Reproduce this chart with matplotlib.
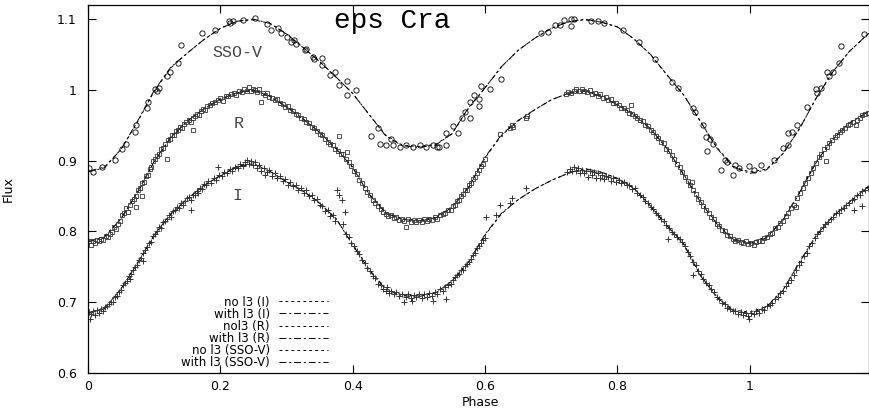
import numpy as np
import matplotlib.pyplot as plt

plt.rcParams['font.family'] = ['DejaVu Sans']
plt.rcParams['lines.scale_dashes'] = False

# model light curves on a fixed phase grid
model_phase = [0.000, 0.025, 0.050, 0.075, 0.100, 0.125, 0.150, 0.175, 0.200, 0.225,
               0.250, 0.275, 0.300, 0.325, 0.350, 0.375, 0.400, 0.425, 0.450, 0.475,
               0.500, 0.525, 0.550, 0.575, 0.600, 0.625, 0.650, 0.675, 0.700, 0.725,
               0.750, 0.775, 0.800, 0.825, 0.850, 0.875, 0.900, 0.925, 0.950, 0.975,
               1.000, 1.025, 1.050, 1.075, 1.100, 1.125, 1.150, 1.175, 1.180]

v_with_l3 = [0.884, 0.890, 0.916, 0.956, 0.999, 1.032, 1.052, 1.071, 1.087, 1.097,
             1.100, 1.094, 1.079, 1.060, 1.040, 1.018, 0.995, 0.965, 0.935, 0.921,
             0.919, 0.922, 0.938, 0.975, 1.003, 1.033, 1.056, 1.073, 1.087, 1.096,
             1.100, 1.096, 1.089, 1.072, 1.050, 1.021, 0.993, 0.956, 0.918, 0.891,
             0.882, 0.887, 0.910, 0.945, 0.988, 1.025, 1.054, 1.076, 1.080]
v_no_l3 = [0.885, 0.891, 0.916, 0.955, 0.998, 1.031, 1.052, 1.071, 1.087, 1.097,
           1.099, 1.094, 1.079, 1.060, 1.040, 1.018, 0.995, 0.965, 0.936, 0.922,
           0.920, 0.923, 0.938, 0.974, 1.003, 1.033, 1.056, 1.073, 1.087, 1.096,
           1.099, 1.096, 1.089, 1.072, 1.050, 1.021, 0.993, 0.956, 0.919, 0.892,
           0.884, 0.888, 0.910, 0.945, 0.988, 1.025, 1.054, 1.076, 1.080]

r_with_l3 = [0.785, 0.792, 0.818, 0.856, 0.899, 0.933, 0.956, 0.973, 0.987, 0.996,
             1.000, 0.991, 0.976, 0.959, 0.940, 0.917, 0.890, 0.852, 0.826, 0.817,
             0.815, 0.819, 0.834, 0.862, 0.905, 0.937, 0.957, 0.972, 0.986, 0.995,
             0.999, 0.991, 0.979, 0.965, 0.945, 0.917, 0.880, 0.842, 0.811, 0.788,
             0.783, 0.791, 0.816, 0.855, 0.898, 0.930, 0.953, 0.967, 0.969]
r_no_l3 = [0.786, 0.793, 0.818, 0.855, 0.898, 0.932, 0.956, 0.973, 0.987, 0.996,
           0.999, 0.991, 0.976, 0.959, 0.940, 0.917, 0.891, 0.853, 0.827, 0.818,
           0.816, 0.820, 0.835, 0.862, 0.904, 0.936, 0.956, 0.972, 0.986, 0.995,
           0.998, 0.991, 0.979, 0.965, 0.945, 0.917, 0.881, 0.843, 0.812, 0.789,
           0.785, 0.792, 0.816, 0.854, 0.897, 0.930, 0.953, 0.967, 0.969]

i_with_l3 = [0.684, 0.691, 0.719, 0.756, 0.795, 0.825, 0.846, 0.865, 0.879, 0.892,
             0.896, 0.885, 0.870, 0.857, 0.840, 0.818, 0.781, 0.745, 0.718, 0.709,
             0.708, 0.713, 0.730, 0.757, 0.796, 0.826, 0.845, 0.860, 0.872, 0.882,
             0.889, 0.884, 0.875, 0.861, 0.836, 0.808, 0.782, 0.738, 0.707, 0.688,
             0.684, 0.693, 0.717, 0.757, 0.794, 0.821, 0.841, 0.861, 0.864]
i_no_l3 = [0.685, 0.692, 0.719, 0.755, 0.794, 0.824, 0.846, 0.865, 0.879, 0.891,
           0.895, 0.885, 0.870, 0.857, 0.840, 0.818, 0.782, 0.746, 0.719, 0.710,
           0.709, 0.714, 0.730, 0.756, 0.795, 0.825, 0.845, 0.860, 0.872, 0.882,
           0.888, 0.884, 0.875, 0.861, 0.836, 0.808, 0.783, 0.739, 0.708, 0.689,
           0.686, 0.694, 0.717, 0.756, 0.793, 0.821, 0.841, 0.861, 0.864]

# observations (phase, flux)
v_obs = [(0.002, 0.889), (0.008, 0.884), (0.021, 0.891), (0.041, 0.901), (0.052, 0.917),
         (0.058, 0.924), (0.071, 0.941), (0.073, 0.950), (0.089, 0.974), (0.091, 0.983),
         (0.101, 1.002), (0.104, 0.998), (0.107, 1.003), (0.119, 1.019), (0.124, 1.026),
         (0.136, 1.038), (0.141, 1.063), (0.172, 1.080), (0.192, 1.085), (0.214, 1.094),
         (0.213, 1.098), (0.219, 1.097), (0.235, 1.099), (0.252, 1.101), (0.270, 1.093),
         (0.277, 1.085), (0.287, 1.087), (0.292, 1.080), (0.300, 1.075), (0.307, 1.068),
         (0.312, 1.070), (0.315, 1.065), (0.328, 1.056), (0.330, 1.058), (0.340, 1.047),
         (0.342, 1.044), (0.353, 1.045), (0.353, 1.035), (0.365, 1.021), (0.373, 1.026),
         (0.380, 1.007), (0.391, 1.012), (0.391, 0.993), (0.405, 1.000), (0.428, 0.935),
         (0.438, 0.946), (0.441, 0.924), (0.451, 0.922), (0.458, 0.930), (0.461, 0.922),
         (0.471, 0.920), (0.481, 0.922), (0.491, 0.920), (0.501, 0.922), (0.511, 0.920),
         (0.521, 0.922), (0.528, 0.919), (0.531, 0.920), (0.541, 0.922), (0.541, 0.939),
         (0.551, 0.949), (0.559, 0.939), (0.565, 0.960), (0.569, 0.969), (0.577, 0.960),
         (0.577, 0.983), (0.584, 0.993), (0.591, 0.977), (0.591, 0.987), (0.594, 1.005),
         (0.607, 1.001), (0.624, 1.016), (0.685, 1.080), (0.695, 1.082), (0.705, 1.092),
         (0.713, 1.092), (0.720, 1.099), (0.730, 1.100), (0.730, 1.090), (0.735, 1.100),
         (0.760, 1.098), (0.770, 1.098), (0.780, 1.094), (0.808, 1.085), (0.833, 1.068),
         (0.856, 1.044), (0.883, 1.011), (0.891, 1.003), (0.914, 0.974), (0.917, 0.969),
         (0.929, 0.950), (0.934, 0.934), (0.940, 0.930), (0.944, 0.924), (0.936, 0.913),
         (0.962, 0.901), (0.966, 0.898), (0.956, 0.887), (0.974, 0.880), (0.977, 0.894),
         (0.983, 0.889), (0.999, 0.892), (1.007, 0.887), (1.017, 0.894), (1.037, 0.901),
         (1.050, 0.918), (1.057, 0.922), (1.057, 0.939), (1.063, 0.941), (1.072, 0.950),
         (1.087, 0.976), (1.100, 1.002), (1.107, 1.003), (1.102, 0.995), (1.117, 1.026),
         (1.125, 1.026), (1.120, 1.019), (1.135, 1.038), (1.138, 1.062), (1.173, 1.079)]

r_obs = [(0.001, 0.786), (0.004, 0.781), (0.007, 0.787), (0.010, 0.784), (0.013, 0.788),
         (0.016, 0.786), (0.020, 0.790), (0.023, 0.788), (0.027, 0.794), (0.030, 0.792),
         (0.033, 0.797), (0.036, 0.799), (0.040, 0.806), (0.043, 0.803), (0.046, 0.811),
         (0.049, 0.815), (0.052, 0.823), (0.055, 0.826), (0.058, 0.833), (0.060, 0.828),
         (0.063, 0.838), (0.066, 0.843), (0.069, 0.846), (0.072, 0.850), (0.073, 0.835),
         (0.075, 0.858), (0.078, 0.861), (0.081, 0.868), (0.081, 0.850), (0.084, 0.870),
         (0.087, 0.878), (0.090, 0.880), (0.093, 0.888), (0.096, 0.891), (0.099, 0.899),
         (0.102, 0.902), (0.105, 0.907), (0.108, 0.909), (0.111, 0.916), (0.114, 0.918),
         (0.117, 0.924), (0.119, 0.903), (0.121, 0.929), (0.124, 0.931), (0.127, 0.936),
         (0.130, 0.937), (0.133, 0.942), (0.136, 0.944), (0.139, 0.948), (0.142, 0.946),
         (0.145, 0.952), (0.148, 0.954), (0.152, 0.958), (0.155, 0.955), (0.158, 0.961),
         (0.159, 0.943), (0.162, 0.963), (0.165, 0.966), (0.168, 0.964), (0.171, 0.970),
         (0.174, 0.973), (0.177, 0.971), (0.180, 0.977), (0.184, 0.978), (0.188, 0.981),
         (0.192, 0.983), (0.196, 0.986), (0.200, 0.988), (0.204, 0.985), (0.208, 0.991),
         (0.212, 0.992), (0.216, 0.994), (0.220, 0.996), (0.224, 0.993), (0.228, 0.998),
         (0.232, 0.997), (0.236, 1.001), (0.240, 0.998), (0.243, 1.004), (0.246, 0.999),
         (0.249, 1.001), (0.252, 1.000), (0.255, 0.997), (0.258, 1.001), (0.261, 0.983),
         (0.264, 0.996), (0.267, 0.993), (0.270, 0.995), (0.274, 0.990), (0.278, 0.989),
         (0.282, 0.986), (0.286, 0.987), (0.290, 0.981), (0.294, 0.980), (0.298, 0.976),
         (0.302, 0.977), (0.306, 0.972), (0.310, 0.970), (0.314, 0.966), (0.318, 0.965),
         (0.322, 0.960), (0.326, 0.959), (0.330, 0.955), (0.334, 0.953), (0.338, 0.948),
         (0.342, 0.946), (0.346, 0.942), (0.350, 0.938), (0.354, 0.936), (0.358, 0.930),
         (0.362, 0.927), (0.366, 0.923), (0.370, 0.922), (0.374, 0.916), (0.378, 0.914),
         (0.380, 0.935), (0.382, 0.910), (0.386, 0.909), (0.390, 0.903), (0.391, 0.912),
         (0.394, 0.898), (0.398, 0.893), (0.402, 0.886), (0.406, 0.881), (0.410, 0.873),
         (0.414, 0.868), (0.418, 0.862), (0.422, 0.856), (0.426, 0.851), (0.430, 0.845),
         (0.434, 0.840), (0.438, 0.836), (0.442, 0.832), (0.446, 0.828), (0.450, 0.825),
         (0.454, 0.822), (0.458, 0.823), (0.462, 0.819), (0.466, 0.820), (0.470, 0.816),
         (0.474, 0.818), (0.478, 0.815), (0.481, 0.807), (0.484, 0.817), (0.488, 0.814),
         (0.492, 0.816), (0.496, 0.813), (0.500, 0.816), (0.504, 0.814), (0.508, 0.817),
         (0.512, 0.815), (0.516, 0.818), (0.520, 0.816), (0.524, 0.820), (0.528, 0.818),
         (0.532, 0.823), (0.536, 0.824), (0.540, 0.826), (0.544, 0.830), (0.548, 0.831),
         (0.552, 0.836), (0.555, 0.838), (0.558, 0.843), (0.561, 0.845), (0.564, 0.850),
         (0.567, 0.853), (0.570, 0.858), (0.573, 0.859), (0.576, 0.866), (0.579, 0.868),
         (0.582, 0.874), (0.585, 0.877), (0.588, 0.883), (0.591, 0.887), (0.594, 0.893),
         (0.597, 0.896), (0.600, 0.903), (0.622, 0.938), (0.637, 0.946), (0.641, 0.951),
         (0.642, 0.947), (0.662, 0.960), (0.664, 0.963), (0.722, 0.994), (0.726, 0.997),
         (0.730, 0.996), (0.734, 0.999), (0.738, 1.001), (0.742, 0.998), (0.746, 1.002),
         (0.750, 0.999), (0.754, 0.997), (0.758, 1.000), (0.762, 0.994), (0.766, 0.996),
         (0.770, 0.992), (0.774, 0.994), (0.778, 0.988), (0.782, 0.990), (0.786, 0.986),
         (0.790, 0.987), (0.794, 0.982), (0.798, 0.981), (0.802, 0.979), (0.806, 0.975),
         (0.810, 0.974), (0.814, 0.971), (0.818, 0.968), (0.821, 0.979), (0.822, 0.966),
         (0.826, 0.963), (0.830, 0.961), (0.834, 0.957), (0.838, 0.956), (0.842, 0.950),
         (0.846, 0.949), (0.850, 0.943), (0.854, 0.941), (0.858, 0.935), (0.862, 0.932),
         (0.866, 0.927), (0.870, 0.925), (0.874, 0.917), (0.878, 0.914), (0.882, 0.908),
         (0.886, 0.903), (0.890, 0.896), (0.894, 0.891), (0.898, 0.884), (0.902, 0.877),
         (0.906, 0.871), (0.910, 0.865), (0.913, 0.870), (0.914, 0.858), (0.918, 0.853),
         (0.922, 0.846), (0.926, 0.841), (0.930, 0.836), (0.934, 0.830), (0.938, 0.826),
         (0.942, 0.820), (0.946, 0.817), (0.950, 0.811), (0.954, 0.808), (0.958, 0.802),
         (0.962, 0.800), (0.966, 0.795), (0.970, 0.793), (0.974, 0.789), (0.978, 0.786),
         (0.982, 0.788), (0.986, 0.785), (0.990, 0.783), (0.994, 0.786), (0.998, 0.782),
         (1.002, 0.784), (1.006, 0.781), (1.010, 0.785), (1.014, 0.787), (1.018, 0.786),
         (1.022, 0.791), (1.026, 0.792), (1.030, 0.797), (1.034, 0.798), (1.038, 0.805),
         (1.042, 0.806), (1.046, 0.812), (1.050, 0.815), (1.054, 0.822), (1.058, 0.826),
         (1.062, 0.833), (1.066, 0.838), (1.070, 0.835), (1.072, 0.847), (1.076, 0.855),
         (1.080, 0.862), (1.084, 0.869), (1.088, 0.876), (1.092, 0.882), (1.096, 0.890),
         (1.100, 0.897), (1.104, 0.905), (1.108, 0.909), (1.112, 0.916), (1.115, 0.900),
         (1.116, 0.920), (1.120, 0.925), (1.124, 0.929), (1.128, 0.933), (1.132, 0.937),
         (1.136, 0.940), (1.140, 0.944), (1.144, 0.946), (1.148, 0.950), (1.152, 0.952),
         (1.156, 0.955), (1.160, 0.950), (1.162, 0.958), (1.166, 0.960), (1.170, 0.965),
         (1.174, 0.966), (1.178, 0.968)]

i_obs = [(0.001, 0.686), (0.003, 0.676), (0.005, 0.683), (0.008, 0.687), (0.011, 0.682),
         (0.014, 0.689), (0.017, 0.685), (0.020, 0.690), (0.023, 0.687), (0.026, 0.693),
         (0.029, 0.695), (0.032, 0.698), (0.035, 0.701), (0.038, 0.700), (0.041, 0.708),
         (0.044, 0.709), (0.047, 0.715), (0.050, 0.717), (0.053, 0.724), (0.056, 0.727),
         (0.059, 0.730), (0.062, 0.737), (0.064, 0.733), (0.065, 0.740), (0.068, 0.745),
         (0.071, 0.750), (0.074, 0.752), (0.077, 0.760), (0.080, 0.762), (0.083, 0.770),
         (0.083, 0.758), (0.086, 0.774), (0.089, 0.778), (0.092, 0.783), (0.095, 0.785),
         (0.098, 0.793), (0.101, 0.797), (0.104, 0.800), (0.107, 0.806), (0.110, 0.805),
         (0.113, 0.813), (0.116, 0.815), (0.119, 0.818), (0.122, 0.823), (0.125, 0.821),
         (0.128, 0.829), (0.131, 0.830), (0.134, 0.834), (0.137, 0.833), (0.140, 0.840),
         (0.143, 0.838), (0.146, 0.843), (0.149, 0.847), (0.152, 0.848), (0.155, 0.845),
         (0.156, 0.830), (0.158, 0.852), (0.161, 0.851), (0.164, 0.857), (0.167, 0.855),
         (0.170, 0.862), (0.173, 0.860), (0.176, 0.867), (0.179, 0.865), (0.182, 0.871),
         (0.186, 0.869), (0.190, 0.875), (0.194, 0.873), (0.197, 0.891), (0.198, 0.880),
         (0.202, 0.878), (0.206, 0.884), (0.210, 0.882), (0.214, 0.888), (0.218, 0.885),
         (0.222, 0.891), (0.226, 0.889), (0.230, 0.895), (0.234, 0.892), (0.238, 0.898),
         (0.241, 0.901), (0.244, 0.895), (0.247, 0.899), (0.250, 0.894), (0.253, 0.898),
         (0.256, 0.890), (0.259, 0.894), (0.262, 0.886), (0.266, 0.890), (0.268, 0.880),
         (0.270, 0.884), (0.274, 0.887), (0.278, 0.879), (0.282, 0.882), (0.286, 0.876),
         (0.290, 0.878), (0.294, 0.872), (0.298, 0.874), (0.302, 0.866), (0.306, 0.870),
         (0.310, 0.864), (0.314, 0.866), (0.318, 0.858), (0.322, 0.861), (0.326, 0.855),
         (0.330, 0.858), (0.334, 0.850), (0.338, 0.852), (0.342, 0.844), (0.346, 0.846),
         (0.350, 0.838), (0.354, 0.836), (0.358, 0.829), (0.362, 0.830), (0.366, 0.822),
         (0.370, 0.823), (0.374, 0.815), (0.376, 0.858), (0.380, 0.852), (0.384, 0.845),
         (0.386, 0.811), (0.388, 0.828), (0.390, 0.797), (0.394, 0.792), (0.398, 0.784),
         (0.402, 0.779), (0.406, 0.772), (0.410, 0.768), (0.414, 0.760), (0.418, 0.756),
         (0.422, 0.749), (0.426, 0.744), (0.430, 0.737), (0.434, 0.734), (0.438, 0.726),
         (0.442, 0.724), (0.446, 0.719), (0.450, 0.716), (0.452, 0.722), (0.455, 0.713),
         (0.458, 0.716), (0.462, 0.711), (0.466, 0.714), (0.470, 0.709), (0.474, 0.712),
         (0.478, 0.700), (0.480, 0.708), (0.484, 0.711), (0.488, 0.706), (0.490, 0.702),
         (0.492, 0.710), (0.496, 0.707), (0.500, 0.711), (0.504, 0.706), (0.508, 0.712),
         (0.512, 0.708), (0.516, 0.713), (0.520, 0.709), (0.521, 0.702), (0.524, 0.715),
         (0.528, 0.712), (0.532, 0.718), (0.536, 0.716), (0.540, 0.721), (0.541, 0.705),
         (0.544, 0.724), (0.548, 0.726), (0.552, 0.731), (0.555, 0.735), (0.558, 0.738),
         (0.561, 0.740), (0.564, 0.745), (0.567, 0.746), (0.570, 0.751), (0.573, 0.754),
         (0.576, 0.757), (0.579, 0.761), (0.582, 0.767), (0.585, 0.770), (0.588, 0.776),
         (0.591, 0.779), (0.594, 0.784), (0.597, 0.788), (0.600, 0.791), (0.602, 0.821),
         (0.616, 0.823), (0.622, 0.837), (0.637, 0.840), (0.641, 0.847), (0.662, 0.861),
         (0.724, 0.884), (0.728, 0.888), (0.731, 0.886), (0.734, 0.891), (0.737, 0.885),
         (0.740, 0.889), (0.743, 0.883), (0.746, 0.887), (0.749, 0.882), (0.752, 0.886),
         (0.755, 0.877), (0.758, 0.885), (0.761, 0.880), (0.764, 0.884), (0.767, 0.876),
         (0.770, 0.882), (0.773, 0.875), (0.776, 0.880), (0.779, 0.874), (0.782, 0.879),
         (0.786, 0.877), (0.790, 0.872), (0.794, 0.876), (0.798, 0.870), (0.802, 0.873),
         (0.806, 0.869), (0.810, 0.870), (0.814, 0.865), (0.818, 0.866), (0.822, 0.860),
         (0.826, 0.862), (0.830, 0.855), (0.834, 0.851), (0.838, 0.848), (0.842, 0.843),
         (0.846, 0.840), (0.850, 0.835), (0.854, 0.832), (0.858, 0.826), (0.862, 0.823),
         (0.866, 0.817), (0.870, 0.815), (0.874, 0.809), (0.876, 0.789), (0.878, 0.805),
         (0.882, 0.799), (0.886, 0.797), (0.890, 0.792), (0.894, 0.789), (0.898, 0.785),
         (0.902, 0.779), (0.906, 0.771), (0.910, 0.766), (0.914, 0.757), (0.914, 0.738),
         (0.918, 0.752), (0.922, 0.744), (0.926, 0.740), (0.930, 0.733), (0.934, 0.727),
         (0.938, 0.724), (0.942, 0.718), (0.946, 0.714), (0.950, 0.708), (0.954, 0.704),
         (0.958, 0.699), (0.962, 0.697), (0.966, 0.692), (0.970, 0.691), (0.974, 0.687),
         (0.978, 0.688), (0.982, 0.684), (0.986, 0.686), (0.990, 0.682), (0.994, 0.685),
         (0.998, 0.681), (0.999, 0.677), (1.002, 0.685), (1.006, 0.683), (1.010, 0.687),
         (1.014, 0.685), (1.018, 0.690), (1.022, 0.689), (1.026, 0.694), (1.030, 0.696),
         (1.034, 0.699), (1.038, 0.704), (1.042, 0.707), (1.046, 0.713), (1.050, 0.716),
         (1.054, 0.723), (1.058, 0.727), (1.062, 0.732), (1.066, 0.739), (1.070, 0.745),
         (1.074, 0.752), (1.078, 0.757), (1.082, 0.766), (1.086, 0.770), (1.090, 0.780),
         (1.094, 0.783), (1.098, 0.791), (1.102, 0.797), (1.106, 0.801), (1.110, 0.806),
         (1.114, 0.810), (1.118, 0.813), (1.122, 0.818), (1.126, 0.820), (1.130, 0.826),
         (1.134, 0.826), (1.138, 0.832), (1.142, 0.833), (1.146, 0.838), (1.150, 0.840),
         (1.154, 0.845), (1.158, 0.830), (1.158, 0.846), (1.162, 0.851), (1.166, 0.852),
         (1.170, 0.836), (1.170, 0.857), (1.174, 0.858), (1.178, 0.862)]

x_ticks = [0, 0.2, 0.4, 0.6, 0.8, 1.0]
x_tick_labels = ['0', '0.2', '0.4', '0.6', '0.8', '1']
y_ticks = [0.6, 0.7, 0.8, 0.9, 1.0, 1.1]
y_tick_labels = ['0.6', '0.7', '0.8', '0.9', '1', '1.1']

dotted = (0, (2.0, 2.3))
dashdot = (0, (5.0, 2.0, 1.5, 2.0))

fig = plt.figure(figsize=(8.7, 4.09), dpi=100)
ax = fig.add_axes([0.1011, 0.088, 0.8977, 0.8998])

# model curves
lines = []
curves = [(i_no_l3, dotted, 'no l3 (I)'),
          (i_with_l3, dashdot, 'with l3 (I)'),
          (r_no_l3, dotted, 'nol3 (R)'),
          (r_with_l3, dashdot, 'with l3 (R)'),
          (v_no_l3, dotted, 'no l3 (SSO-V)'),
          (v_with_l3, dashdot, 'with l3 (SSO-V)')]
for flux, ls, lab in curves:
    ln, = ax.plot(model_phase, flux, color='k', lw=0.7, linestyle=ls, label=lab)
    lines.append(ln)

# observed points
v = np.array(v_obs)
r = np.array(r_obs)
i = np.array(i_obs)
ax.plot(v[:, 0], v[:, 1], 'o', ms=3.8, mfc='none', mec='k', mew=0.6)
ax.plot(r[:, 0], r[:, 1], 's', ms=2.8, mfc='none', mec='#333333', mew=0.6)
ax.plot(i[:, 0], i[:, 1], '+', ms=4.2, mec='#333333', mew=0.7)

ax.set_xlim(0, 1.18)
ax.set_ylim(0.6, 1.12)
ax.set_xticks(x_ticks)
ax.set_xticklabels(x_tick_labels)
ax.set_yticks(y_ticks)
ax.set_yticklabels(y_tick_labels)
ax.tick_params(direction='in', top=True, right=True, length=6, width=0.8, labelsize=9)
ax.tick_params(axis='x', pad=5)
ax.tick_params(axis='y', pad=8)
for s in ax.spines.values():
    s.set_linewidth(0.9)

ax.set_xlabel('Phase', fontsize=9)
ax.set_ylabel('Flux', fontsize=9)
ax.xaxis.set_label_coords(0.503, -0.062)
ax.yaxis.set_label_coords(-0.094, 0.5)

ax.text(0.389, 0.9375, 'eps Cra', transform=ax.transAxes, ha='center', va='baseline',
        fontsize=20, family='Liberation Mono')
ax.text(0.226, 1.053, 'SSO-V', ha='center', va='center', fontsize=12,
        family='Liberation Mono', color='#444444')
ax.text(0.227, 0.953, 'R', ha='center', va='center', fontsize=12,
        family='Liberation Mono', color='#444444')
ax.text(0.225, 0.851, 'I', ha='center', va='center', fontsize=12,
        family='Liberation Mono', color='#444444')

ax.legend(handles=lines, loc='lower right', bbox_to_anchor=(0.31, 0.005),
          markerfirst=False, frameon=False, fontsize=8.5, labelspacing=-0.08,
          handlelength=4.1, handletextpad=0.8, borderpad=0.2, borderaxespad=0)

fig.savefig('out.png', dpi=100)
